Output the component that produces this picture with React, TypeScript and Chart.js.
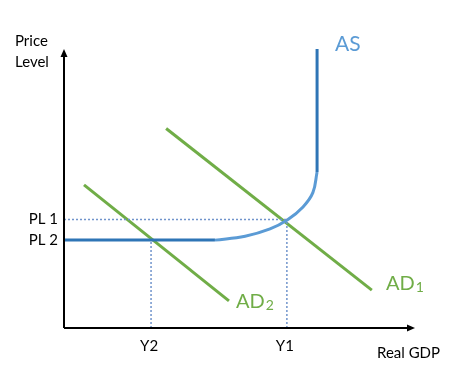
import React, { useEffect, useRef } from "react";
import { Chart, registerables } from "chart.js";

Chart.register(...registerables);

// Economic values (arbitrary units, 0..100 on each axis)
const PL1 = 38.9;
const PL2 = 31.5;
const Y1 = 63.5;
const Y2 = 24.8;

const asFlatX = [0, 43.0];
const asFlatY = [PL2, PL2];
const asCurveX = [43.0, 51.6, 58.7, 63.8, 68.1, 70.9, 72.1];
const asCurveY = [31.5, 32.9, 35.5, 38.9, 43.4, 48.5, 55.9];
const asVertX = [72.1, 72.1];
const asVertY = [55.9, 100];
const ad1X = [29.1, 87.7];
const ad1Y = [71.5, 13.6];
const ad2X = [5.7, 47.0];
const ad2Y = [51.3, 9.7];

const yTickLabels = ["PL 1", "PL 2"];
const yTickValues = [PL1, PL2];
const xTickLabels = ["Y2", "Y1"];
const xTickValues = [Y2, Y1];

const DARK_BLUE = "#2E75B6";
const LIGHT_BLUE = "#5B9BD5";
const GREEN = "#70AD47";
const DOT = "#7094CC";
const FONT = "Lato, 'Open Sans', sans-serif";

const pts = (xs: number[], ys: number[]) => xs.map((x, i) => ({ x, y: ys[i] }));

export default function App() {
  const ref = useRef<HTMLCanvasElement | null>(null);
  useEffect(() => {
    if (!ref.current) return;
    const overlay = {
      id: "overlay",
      afterDatasetsDraw(chart: any) {
        const ctx = chart.ctx as CanvasRenderingContext2D;
        const { left, right, top, bottom } = chart.chartArea;
        const xs = chart.scales.x;
        const ys = chart.scales.y;
        ctx.save();
        // axes
        ctx.strokeStyle = "#000";
        ctx.lineWidth = 2;
        ctx.beginPath();
        ctx.moveTo(left, bottom);
        ctx.lineTo(left, top + 6);
        ctx.moveTo(left, bottom);
        ctx.lineTo(right - 6, bottom);
        ctx.stroke();
        ctx.fillStyle = "#000";
        ctx.beginPath();
        ctx.moveTo(left, top);
        ctx.lineTo(left - 3.5, top + 8);
        ctx.lineTo(left + 3.5, top + 8);
        ctx.closePath();
        ctx.fill();
        ctx.beginPath();
        ctx.moveTo(right, bottom);
        ctx.lineTo(right - 8, bottom - 3.5);
        ctx.lineTo(right - 8, bottom + 3.5);
        ctx.closePath();
        ctx.fill();

        // axis texts
        ctx.fillStyle = "#000";
        ctx.font = `15px ${FONT}`;
        ctx.textBaseline = "middle";
        ctx.textAlign = "left";
        ctx.fillText("Price", 15, 41);
        ctx.fillText("Level", 15, 62);
        ctx.fillText("Real GDP", 377, 353);
        ctx.textAlign = "right";
        yTickLabels.forEach((t, i) => ctx.fillText(t, left - 6, ys.getPixelForValue(yTickValues[i])));
        ctx.textAlign = "center";
        xTickLabels.forEach((t, i) => ctx.fillText(t, xs.getPixelForValue(xTickValues[i]) - 2, bottom + 18));

        // curve labels
        ctx.textAlign = "left";
        ctx.fillStyle = LIGHT_BLUE;
        ctx.font = `21px ${FONT}`;
        ctx.fillText("AS", 335, 44);
        ctx.fillStyle = GREEN;
        const sub = (base: string, s: string, x: number, y: number) => {
          ctx.font = `20px ${FONT}`;
          ctx.fillText(base, x, y);
          const w = ctx.measureText(base).width;
          ctx.font = `14px ${FONT}`;
          ctx.fillText(s, x + w + 1, y + 3);
        };
        sub("AD", "1", 386, 284);
        sub("AD", "2", 236, 302);
        ctx.restore();
      },
    };
    const line = (data: any, color: string, width: number, dash: number[] = [], tension = 0) => ({
      data,
      borderColor: color,
      borderWidth: width,
      borderDash: dash,
      showLine: true,
      pointRadius: 0,
      tension,
      fill: false,
      borderCapStyle: "butt",
    });
    const chart = new Chart(ref.current, {
      type: "scatter",
      data: {
        datasets: [
          line(pts([0, Y1], [PL1, PL1]), DOT, 1.5, [2, 2]),
          line(pts([Y1, Y1], [0, PL1]), DOT, 1.5, [2, 2]),
          line(pts([Y2, Y2], [0, PL2]), DOT, 1.5, [2, 2]),
          line(pts(asFlatX, asFlatY), DARK_BLUE, 3),
          line(pts(asCurveX, asCurveY), LIGHT_BLUE, 3, [], 0.4),
          line(pts(asVertX, asVertY), DARK_BLUE, 3),
          line(pts(ad1X, ad1Y), GREEN, 3),
          line(pts(ad2X, ad2Y), GREEN, 3),
        ] as any,
      },
      options: {
        animation: false,
        responsive: false,
        maintainAspectRatio: false,
        layout: { padding: { left: 64, right: 44, top: 49, bottom: 42 } },
        scales: {
          x: { type: "linear", min: 0, max: 100, display: false },
          y: { type: "linear", min: 0, max: 100, display: false },
        },
        plugins: { legend: { display: false }, tooltip: { enabled: false } },
      },
      plugins: [overlay],
    });
    return () => chart.destroy();
  }, []);
  return (
    <div style={{ position: "fixed", left: 0, top: 0, width: 459, height: 370, background: "#fff" }}>
      <canvas ref={ref} width={459} height={370} style={{ width: 459, height: 370 }} />
    </div>
  );
}
